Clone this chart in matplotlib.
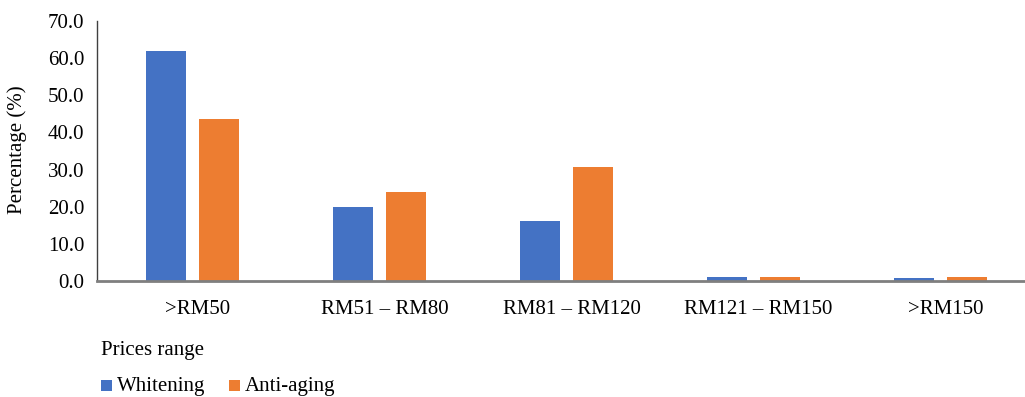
import numpy as np
import matplotlib.pyplot as plt
from matplotlib.patches import Rectangle
from matplotlib.transforms import ScaledTranslation

plt.rcParams['font.family'] = ['Liberation Serif', 'DejaVu Serif']

price_ranges = ['>RM50', 'RM51 \u2013 RM80', 'RM81 \u2013 RM120', 'RM121 \u2013 RM150', '>RM150']
whitening = [61.9, 19.9, 16.2, 1.1, 0.8]
anti_aging = [43.6, 24.0, 30.7, 1.1, 1.1]

blue = '#4472C4'
orange = '#ED7D31'
fs = 15

W, H, dpi = 1025, 397, 100
fig = plt.figure(figsize=(W / dpi, H / dpi), dpi=dpi)
# axes runs past the right edge of the figure
ax = fig.add_axes([97 / W, (H - 281) / H, 935 / W, 260 / H])

x = np.arange(len(price_ranges))
bw = 0.214
off = 0.142
ax.bar(x - off, whitening, bw, color=blue, zorder=2)
ax.bar(x + off, anti_aging, bw, color=orange, zorder=2)

ax.set_xlim(-0.511, len(price_ranges) - 0.511)
ax.set_ylim(0, 70)
ax.set_yticks(np.arange(0, 71, 10))
ax.set_yticklabels([f'{v:.1f}' for v in np.arange(0, 71, 10)], fontsize=fs)
ax.set_xticks(x)
ax.set_xticklabels(price_ranges, fontsize=fs)
ax.tick_params(axis='both', length=0)
ax.tick_params(axis='x', pad=14)
ax.tick_params(axis='y', pad=9)
for lbl in ax.get_xticklabels():
    lbl.set_transform(lbl.get_transform() + ScaledTranslation(5 / dpi, 0, fig.dpi_scale_trans))

for s in ['top', 'right']:
    ax.spines[s].set_visible(False)
ax.spines['left'].set_color('#404040')
ax.spines['left'].set_linewidth(1.0)
ax.spines['bottom'].set_color('#7f7f7f')
ax.spines['bottom'].set_linewidth(2.0)
ax.spines['bottom'].set_zorder(3)

fig.text(17 / W, 1 - 150 / H, 'Percentage (%)', rotation=90, fontsize=fs,
         ha='center', va='center')
fig.text(101 / W, 1 - 351 / H, 'Prices range', fontsize=fs, ha='left', va='center')

# legend drawn by hand: square swatch + label
for sx, tx, col, lab in [(101, 117, blue, 'Whitening'), (229, 245, orange, 'Anti-aging')]:
    fig.patches.append(Rectangle((sx / W, 1 - 391 / H), 11 / W, 11 / H,
                                 facecolor=col, transform=fig.transFigure))
    fig.text(tx / W, 1 - 387 / H, lab, fontsize=fs, ha='left', va='center')

fig.savefig('out.png', dpi=dpi)
